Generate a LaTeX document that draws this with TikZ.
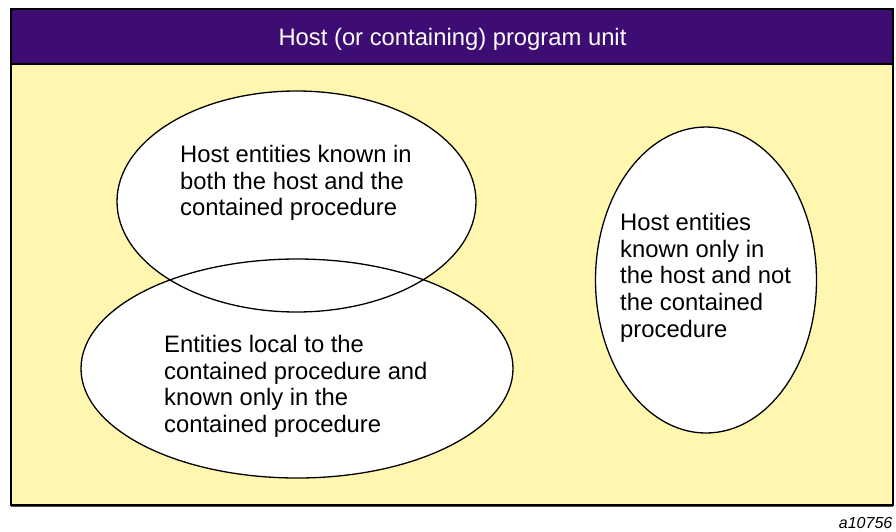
\documentclass[tikz,border=0pt]{standalone}
\usepackage{fontspec}
\setmainfont{Liberation Sans}
\usetikzlibrary{shapes.geometric}
\definecolor{hdr}{RGB}{62,13,115}
\definecolor{pane}{RGB}{255,247,175}
\tikzset{
  oval/.style={ellipse, inner sep=0pt, outer sep=0pt, line width=1.3pt},
  ovalfill/.style={oval, fill=white},
  ovalline/.style={oval, draw=black},
  txt/.style={align=left, inner sep=0pt, font=\fontsize{23.8}{26.7}\selectfont},
}
\begin{document}
\begin{tikzpicture}[x=1pt,y=-1pt]
\useasboundingbox (0,0) rectangle (896,531);
% frame
\fill[pane] (11,9) rectangle (893,505);
\fill[hdr] (11,9) rectangle (893,64);
\draw[line width=1.6pt] (11,64) -- (893,64);
\draw[line width=2pt] (11,9) rectangle (893,505);
\draw[line width=1pt, black!70] (11,506.5) -- (893,506.5);
\node[anchor=base, inner sep=0pt, text=white, font=\fontsize{23.8}{26}\selectfont] (title) at (452.5,45) {Host (or containing) program unit};
% ellipse fills
\node[ovalfill, minimum width=359, minimum height=221] (topfill) at (296.5,201.5) {};
\node[ovalfill, minimum width=432, minimum height=219] (botfill) at (297,368.5) {};
\node[ovalfill, minimum width=221, minimum height=306] (rightfill) at (706,280) {};
% ellipse outlines
\node[ovalline, minimum width=359, minimum height=221] (top) at (296.5,201.5) {};
\node[ovalline, minimum width=432, minimum height=219] (bot) at (297,368.5) {};
\node[ovalline, minimum width=221, minimum height=306] (right) at (706,280) {};
% texts
\node[txt, anchor=north west] (ttop) at (180,145) {Host entities known in\\both the host and the\\contained procedure};
\node[txt, anchor=north west] (tbot) at (164,335) {Entities local to the\\contained procedure and\\known only in the\\contained procedure};
\node[txt, anchor=north west] (tright) at (620,213) {Host entities\\known only in\\the host and not\\the contained\\procedure};
\node[anchor=base east, inner sep=0pt, font=\fontsize{16}{18}\selectfont\itshape] (lbl) at (892.5,528) {a10756};
\end{tikzpicture}
\end{document}
